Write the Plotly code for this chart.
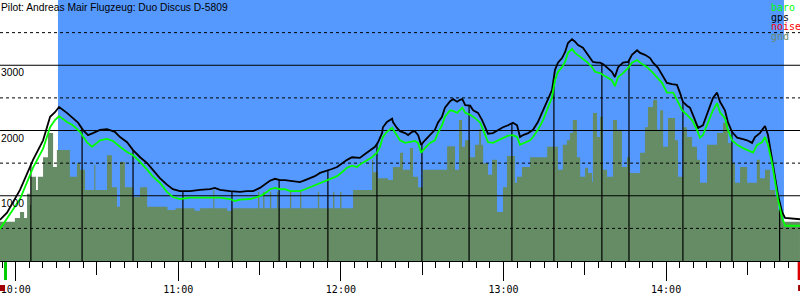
import numpy as np
import plotly.graph_objects as go

title_text = "Pilot: Andreas Mair Flugzeug: Duo Discus D-5809"

# time in minutes after 10:00, altitude in metres
gps_t = [-5.8, -3.2, 1.6, 6.4, 10.1, 12.7, 14.5, 16.0, 18.9, 21.1,
         23.0, 24.8, 26.7, 28.5, 31.1, 33.7, 36.6, 38.5, 41.1, 43.3,
         45.9, 48.5, 50.7, 53.2, 55.8, 58.0, 60.6, 64.3, 68.0, 71.7,
         73.5, 75.4, 79.1, 80.9, 82.8, 85.3, 87.6, 90.1, 92.0, 93.8,
         95.7, 97.5, 99.4, 101.2, 103.1, 104.9, 106.8, 108.6, 110.4, 112.3,
         114.9, 116.7, 118.6, 120.4, 122.3, 124.1, 125.9, 127.0, 128.9, 130.7,
         132.6, 133.7, 135.2, 135.5, 137.0, 138.9, 139.2, 140.7, 141.8, 143.7,
         144.8, 146.3, 147.3, 148.5, 149.6, 151.0, 152.9, 154.7, 155.8, 157.3,
         158.4, 160.3, 161.4, 162.9, 164.0, 164.8, 165.9, 167.7, 168.8, 170.6,
         172.1, 173.2, 174.3, 176.1, 178.0, 179.8, 181.7, 183.5, 185.0, 186.1,
         187.2, 189.1, 190.9, 192.7, 194.6, 196.4, 197.9, 199.0, 200.1, 201.6,
         202.7, 203.8, 205.3, 206.4, 207.5, 209.3, 211.2, 213.0, 214.5, 215.6,
         216.7, 218.2, 220.0, 221.1, 222.3, 224.1, 226.0, 227.4, 229.3, 230.4,
         232.2, 234.1, 235.2, 237.0, 238.9, 240.3, 242.2, 244.0, 245.1, 246.2,
         247.7, 248.8, 249.9, 251.8, 253.6, 255.5, 257.3, 258.8, 259.9, 261.7,
         262.8, 264.3, 266.2, 268.0, 269.9, 271.7, 272.8, 274.6, 276.5, 277.6,
         279.1, 280.2, 281.3, 282.8, 283.9, 289.4]
gps_alt = [630, 740, 1090, 1550, 1850, 2210, 2280, 2360, 2270, 2190,
           2120, 2010, 1930, 1960, 2010, 2020, 1980, 1900, 1820, 1700,
           1590, 1500, 1400, 1270, 1170, 1100, 1070, 1070, 1090, 1100,
           1120, 1090, 1070, 1060, 1060, 1070, 1070, 1120, 1170, 1230,
           1260, 1240, 1240, 1230, 1210, 1210, 1240, 1270, 1300, 1350,
           1380, 1410, 1440, 1500, 1550, 1590, 1590, 1580, 1640, 1700,
           1750, 1820, 1960, 2050, 2130, 2180, 2130, 2040, 1990, 1960,
           1930, 1980, 1990, 1930, 1780, 1850, 1930, 2010, 2120, 2210,
           2350, 2450, 2480, 2440, 2470, 2480, 2390, 2380, 2310, 2270,
           2160, 2050, 1950, 1960, 2010, 2050, 2080, 2120, 2080, 1900,
           1930, 1960, 2010, 2130, 2310, 2470, 2620, 2930, 3040, 3110,
           3200, 3340, 3400, 3360, 3310, 3270, 3160, 3050, 3040, 3040,
           3020, 2960, 2900, 2820, 2970, 3040, 3050, 3160, 3230, 3190,
           3160, 3110, 3040, 2960, 2820, 2730, 2710, 2700, 2580, 2440,
           2380, 2350, 2240, 2040, 2080, 2280, 2500, 2580, 2440, 2310,
           2130, 1980, 1890, 1870, 1850, 1810, 1900, 1960, 2070, 1930,
           1590, 1290, 1010, 750, 660, 640]

baro_t = [-5.8, 1.6, 6.4, 10.1, 12.7, 14.5, 16.0, 18.9, 21.1, 23.7,
          26.3, 28.2, 30.0, 31.1, 33.7, 35.9, 38.5, 41.1, 43.3, 45.9,
          48.5, 50.7, 53.2, 55.8, 58.0, 60.6, 64.3, 68.0, 71.7, 73.5,
          75.4, 79.1, 80.9, 82.8, 86.5, 89.0, 90.9, 92.8, 93.8, 95.7,
          97.5, 99.4, 101.2, 103.1, 104.9, 106.8, 108.6, 110.4, 112.3, 114.9,
          116.7, 118.6, 120.4, 122.3, 124.1, 125.9, 127.8, 129.6, 131.5, 133.3,
          134.4, 135.5, 137.0, 138.9, 140.0, 141.1, 141.8, 143.7, 145.5, 147.3,
          148.5, 149.6, 151.0, 152.9, 154.7, 155.8, 157.3, 158.4, 160.3, 161.4,
          162.9, 164.0, 164.8, 165.9, 167.7, 169.5, 171.4, 172.5, 174.3, 176.1,
          178.0, 179.8, 181.7, 183.5, 185.0, 186.1, 188.0, 189.8, 190.9, 192.7,
          194.6, 196.4, 197.9, 199.0, 200.1, 201.6, 202.7, 203.8, 205.3, 206.4,
          208.3, 210.8, 212.7, 213.8, 215.6, 216.7, 218.5, 220.0, 221.1, 222.3,
          224.1, 226.0, 227.4, 229.3, 230.4, 233.0, 234.8, 236.7, 238.5, 240.3,
          242.6, 244.4, 245.9, 247.7, 249.6, 251.4, 252.5, 253.6, 255.5, 257.3,
          258.8, 259.9, 261.7, 262.8, 264.3, 266.2, 268.4, 270.3, 272.1, 273.6,
          275.4, 276.5, 277.6, 279.1, 280.2, 281.3, 282.8, 283.9, 289.4]
baro_alt = [490, 950, 1430, 1720, 2050, 2160, 2220, 2130, 2080, 1980,
            1820, 1750, 1810, 1850, 1870, 1840, 1750, 1670, 1620, 1520,
            1400, 1290, 1200, 1060, 980, 950, 970, 970, 980, 970,
            970, 950, 920, 940, 950, 980, 1010, 1060, 1100, 1120,
            1100, 1100, 1070, 1070, 1070, 1100, 1130, 1170, 1200, 1240,
            1270, 1300, 1360, 1430, 1460, 1440, 1500, 1550, 1590, 1660,
            1750, 1900, 1980, 2040, 1960, 1890, 1850, 1810, 1820, 1840,
            1810, 1660, 1730, 1810, 1850, 1960, 2080, 2210, 2310, 2300,
            2270, 2310, 2350, 2270, 2240, 2190, 2120, 2010, 1820, 1810,
            1850, 1890, 1920, 1930, 1900, 1780, 1810, 1850, 1900, 2010,
            2160, 2350, 2510, 2770, 2900, 2970, 3050, 3190, 3250, 3190,
            3130, 3050, 2970, 2900, 2880, 2850, 2810, 2770, 2680, 2820,
            2880, 2960, 3040, 3080, 3040, 2970, 2900, 2820, 2730, 2580,
            2580, 2440, 2310, 2240, 2160, 2010, 1890, 1930, 2120, 2310,
            2420, 2280, 2190, 2010, 1850, 1780, 1730, 1700, 1660, 1780,
            1820, 1900, 1780, 1500, 1200, 940, 660, 540, 540]

gnd_t = [-5.8, -0.3, 1.6, 3.1, 4.2, 5.3, 5.6, 7.5, 8.2, 10.1,
         11.9, 13.8, 15.2, 20.0, 22.6, 23.7, 25.6, 29.0, 29.4, 33.7,
         35.5, 37.4, 38.5, 40.3, 43.3, 45.9, 48.5, 56.0, 59.0, 66.0,
         68.0, 72.9, 73.3, 78.0, 80.0, 89.4, 89.9, 91.3, 91.8, 93.8,
         94.3, 96.4, 96.9, 101.2, 101.7, 104.9, 105.4, 111.5, 112.0, 117.1,
         117.6, 119.7, 120.2, 124.5, 131.5, 131.9, 133.7, 137.4, 139.2, 141.8,
         142.9, 145.5, 146.6, 148.5, 150.3, 159.2, 162.1, 163.6, 164.7, 165.8,
         167.7, 169.5, 171.0, 171.7, 172.5, 174.3, 175.8, 177.6, 179.8, 181.3,
         184.2, 185.0, 186.8, 189.8, 196.1, 200.1, 201.9, 203.4, 204.5, 205.6,
         207.1, 208.3, 210.1, 211.2, 212.7, 213.0, 214.5, 215.6, 216.7, 218.2,
         220.4, 221.9, 223.7, 225.6, 226.7, 230.4, 232.2, 233.3, 235.2, 236.7,
         237.8, 238.9, 240.7, 243.3, 244.4, 246.2, 247.7, 249.6, 251.4, 252.5,
         255.1, 258.8, 261.0, 262.8, 264.3, 265.4, 267.3, 269.9, 273.5, 274.6,
         276.5, 278.3, 280.2, 281.3, 283.2, 289.4]
gnd_alt = [600, 660, 750, 660, 1030, 860, 1290, 1090, 1290, 1590,
           1960, 1440, 1700, 1290, 1500, 1400, 1090, 1470, 1090, 1620,
           1130, 830, 1520, 1130, 980, 1130, 830, 780, 810, 770,
           810, 1090, 810, 770, 810, 1060, 810, 1060, 810, 1060,
           810, 1060, 810, 1060, 810, 1060, 810, 1060, 810, 1060,
           810, 1060, 810, 1090, 1550, 1360, 1270, 1240, 1440, 1660,
           1400, 1730, 1290, 1130, 1400, 1760, 1400, 2160, 1750, 1850,
           1590, 1780, 2020, 1780, 1500, 1320, 1550, 750, 1130, 1610,
           1200, 1290, 1440, 1590, 1750, 1400, 1780, 1850, 1960, 2160,
           1590, 1290, 1430, 1350, 1210, 2270, 1900, 2210, 1400, 1290,
           2160, 2010, 1440, 1590, 1350, 1660, 2050, 2360, 2470, 2010,
           2310, 1750, 2190, 1850, 1290, 2050, 1900, 1750, 1550, 1200,
           1780, 1960, 2120, 1810, 1500, 1200, 1440, 1200, 1550, 1270,
           1400, 1090, 980, 780, 600, 600]

# times of the marked fixes (drop lines to the gps trace)
marker_t = [5.6, 24.5, 43.3, 61.7, 79.8, 97.2, 115.2, 133.3, 149.9,
            167.3, 183.1, 198.6, 216.3, 226.3, 246.2, 264.3, 281.9]

tick_vals = [0, 60, 120, 180, 240]
tick_labels = ["10:00", "11:00", "12:00", "13:00", "14:00"]
solid_levels = [1000, 2000, 3000]
dashed_levels = [500, 1500, 2500, 3500]
label_levels = [1000, 2000, 3000]
task_start, task_end = 15.6, 283.5
takeoff_t, landing_t = -3.75, 289.1
legend_items = [("baro", "#00ff00"), ("gps", "#000000"),
                ("noise", "#ff0000"), ("gnd", "#6a8a6a")]
x_range = [-5.79, 289.41]
y_range = [0, 4000]

BLUE = "#5599ff"
GROUND = "#658c65"

fig = go.Figure()

fig.add_trace(go.Scatter(x=gnd_t, y=gnd_alt, mode="lines", line_shape="hv",
                         line=dict(width=0, color=GROUND), fill="tozeroy",
                         fillcolor=GROUND, hoverinfo="skip"))

def hsegs(levels):
    xs, ys = [], []
    for v in levels:
        xs += [x_range[0], x_range[1], None]
        ys += [v, v, None]
    return xs, ys

xs, ys = hsegs(solid_levels)
fig.add_trace(go.Scatter(x=xs, y=ys, mode="lines",
                         line=dict(color="black", width=1)))
xs, ys = hsegs(dashed_levels)
fig.add_trace(go.Scatter(x=xs, y=ys, mode="lines",
                         line=dict(color="black", width=1, dash="3px,3px")))

tops = np.interp(marker_t, gps_t, gps_alt)
vx, vy = [], []
for t, a in zip(marker_t, tops):
    vx += [t, t, None]
    vy += [0, a, None]
fig.add_trace(go.Scatter(x=vx, y=vy, mode="lines",
                         line=dict(color="black", width=1.2)))

fig.add_trace(go.Scatter(x=gps_t, y=gps_alt, mode="lines",
                         line=dict(color="black", width=1.8)))
fig.add_trace(go.Scatter(x=baro_t, y=baro_alt, mode="lines",
                         line=dict(color="#00ff00", width=1.8)))

# invisible trace for the half-hour tick axis
fig.add_trace(go.Scatter(x=[x_range[0]], y=[0], xaxis="x2", mode="markers",
                         marker=dict(opacity=0), hoverinfo="skip"))

shapes = [
    dict(type="rect", xref="x", yref="paper", x0=task_start, x1=task_end,
         y0=0, y1=1, fillcolor=BLUE, line=dict(width=0), layer="below"),
    dict(type="line", xref="x", yref="paper", x0=takeoff_t, x1=takeoff_t,
         y0=-0.004, y1=-0.073, line=dict(color="#00cc00", width=3)),
    dict(type="line", xref="x", yref="paper", x0=landing_t, x1=landing_t,
         y0=-0.004, y1=-0.073, line=dict(color="#dd0000", width=3)),
    dict(type="rect", xref="x", yref="paper", x0=x_range[0], x1=takeoff_t - 0.2,
         y0=-0.092, y1=-0.115, fillcolor="#a00000", line=dict(width=0)),
    dict(type="rect", xref="x", yref="paper", x0=landing_t - 0.4, x1=x_range[1],
         y0=-0.092, y1=-0.115, fillcolor="#a00000", line=dict(width=0)),
]

annotations = [dict(text=title_text, xref="paper", yref="paper", x=0, y=1,
                    xanchor="left", yanchor="top", showarrow=False, xshift=-1,
                    font=dict(family="Liberation Sans", size=10.3, color="black"))]
for v in label_levels:
    annotations.append(dict(text=str(v), xref="paper", yref="y", x=0, y=v,
                            xanchor="left", yanchor="top", showarrow=False,
                            xshift=-1, yshift=0,
                            font=dict(family="Liberation Sans", size=10.3,
                                      color="black")))
for i, (name, col) in enumerate(legend_items):
    annotations.append(dict(text=name, xref="paper", yref="paper",
                            x=0.961, y=(261 - (7 + 10 * i)) / 261,
                            xanchor="left", yanchor="middle", showarrow=False,
                            font=dict(family="DejaVu Sans Mono", size=10,
                                      color=col)))

fig.update_layout(
    width=800, height=300, margin=dict(l=0, r=0, t=0, b=39),
    paper_bgcolor="white", plot_bgcolor="white", showlegend=False,
    shapes=shapes, annotations=annotations,
    xaxis=dict(range=x_range, tickmode="array", tickvals=tick_vals,
               ticktext=tick_labels, ticks="outside", ticklen=19,
               tickcolor="black", tickwidth=1, showgrid=False,
               zeroline=False, showline=True, linecolor="black",
               linewidth=1,
               tickfont=dict(family="DejaVu Sans Mono", size=10, color="black"),
               minor=dict(tickmode="linear", tick0=0, dtick=5, ticks="outside",
                          ticklen=6, tickcolor="black", tickwidth=1,
                          showgrid=False)),
    xaxis2=dict(range=x_range, overlaying="x", anchor="y", side="bottom",
                tickmode="linear", tick0=0, dtick=30, ticks="outside",
                ticklen=13, tickcolor="black", tickwidth=1,
                showticklabels=False, showgrid=False, zeroline=False),
    yaxis=dict(range=y_range, showticklabels=False, showgrid=False,
               zeroline=False, ticks=""),
)

fig.write_html("out.html")
